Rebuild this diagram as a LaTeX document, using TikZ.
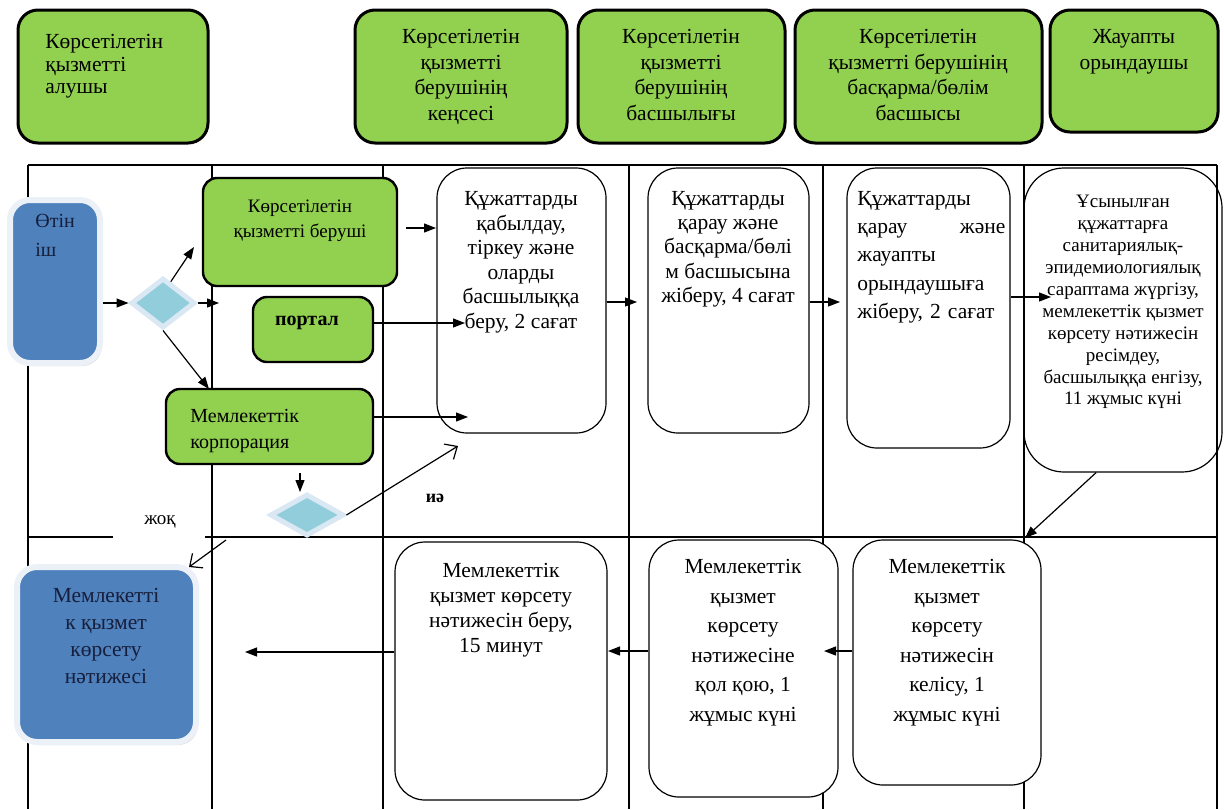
\documentclass[tikz,border=0pt]{standalone}
\usepackage{fontspec}
\setmainfont{Liberation Serif}
\usetikzlibrary{arrows.meta,shapes.geometric,shadows,fit}

\definecolor{hgreen}{RGB}{146,208,80}
\definecolor{bblue}{RGB}{79,129,189}
\definecolor{dcyan}{RGB}{146,205,220}
\definecolor{dedge}{RGB}{218,232,244}
\definecolor{bedge}{RGB}{236,241,248}
\definecolor{navy}{RGB}{22,30,60}

\tikzset{
  lane/.style={line width=0.65pt},
  hdr/.style={draw, line width=1.5pt, fill=hgreen, rounded corners=10pt, inner sep=0pt},
  gbox/.style={draw, line width=1.2pt, fill=hgreen, rounded corners=7pt, inner sep=0pt},
  wbox/.style={draw, line width=0.6pt, fill=white, rounded corners=15pt, inner sep=0pt},
  bbox/.style={draw=bedge, line width=3pt, fill=bblue, rounded corners=10pt, inner sep=0pt,
    drop shadow={shadow xshift=1pt, shadow yshift=-1.5pt, opacity=0.3}},
  dia/.style={diamond, draw=dedge, fill=dcyan, line width=2.5pt, inner sep=0pt},
  txt/.style={inner sep=0pt, align=center, font=\fontsize{10.75}{12.3}\selectfont},
  arr/.style={line width=0.6pt, -{Triangle[length=6pt,width=4.5pt]}},
  oarr/.style={line width=0.6pt, -{Straight Barb[length=5pt,width=9pt]}},
}

\begin{document}
\begin{tikzpicture}[x=0.5pt, y=-0.5pt]
    \useasboundingbox (0,0) rectangle (1224,809);

    % swimlanes
    \pgfmathsetmacro{\ytop}{165};
    \pgfmathsetmacro{\ymid}{537};
    \draw[lane] (28,\ytop) -- (1217,\ytop);
    \foreach \x in {28,212,383,629,823,1024,1217}
        \draw[lane] (\x,\ytop) -- (\x,809);
    \draw[lane] (28,\ymid) -- (113,\ymid);
    \draw[lane] (205,\ymid) -- (1217,\ymid);

    % headers
    \node[hdr, fit={(18,10) (208,143)}] (h1) {};
    \node[hdr, fit={(355,10) (567,143)}] (h2) {};
    \node[hdr, fit={(578,10) (785,143)}] (h3) {};
    \node[hdr, fit={(795,10) (1042,143)}] (h4) {};
    \node[hdr, fit={(1050,10) (1218,132)}] (h5) {};
    \node[txt, anchor=north west, align=left, font=\fontsize{10.75}{11.3}\selectfont] (h1t) at (45,34) {Көрсетілетін\\қызметті\\алушы};
    \node[txt, anchor=north, font=\fontsize{10.75}{12.8}\selectfont] (h2t) at (461,29) {Көрсетілетін\\қызметті\\берушінің\\кеңсесі};
    \node[txt, anchor=north, font=\fontsize{10.75}{12.8}\selectfont] (h3t) at (681,29) {Көрсетілетін\\қызметті\\берушінің\\басшылығы};
    \node[txt, anchor=north, font=\fontsize{10.75}{12.8}\selectfont] (h4t) at (918,29) {Көрсетілетін\\қызметті берушінің\\басқарма/бөлім\\басшысы};
    \node[txt, anchor=north, font=\fontsize{10.75}{12.8}\selectfont] (h5t) at (1134,29) {Жауапты\\орындаушы};

    % first lane
    \node[bbox, fit={(10,200) (100,363)}] (otinish) {};
    \node[txt, anchor=north west, align=left, text=navy, font=\fontsize{10}{14.5}\selectfont] (otinisht) at (35,214) {Өтін\\іш};
    \node[dia, minimum width=32pt, minimum height=25pt] (d1) at (163,303) {};

    \node[gbox, fit={(203,178) (397,286)}] (berushi) {};
    \node[txt, anchor=north, font=\fontsize{9.5}{12.5}\selectfont] (berushit) at (300,200) {Көрсетілетін\\қызметті беруші};
    \node[gbox, fit={(253,297) (373,362)}] (portal) {};
    \node[txt, font=\fontsize{10}{12}\selectfont\bfseries] (portalt) at (307,323) {портал};
    \node[gbox, fit={(166,389) (373,464)}] (corp) {};
    \node[txt, anchor=north west, align=left, font=\fontsize{10}{13}\selectfont] (corpt) at (190,409) {Мемлекеттік\\корпорация};
    \node[dia, minimum width=37pt, minimum height=21pt] (d2) at (307,515) {};

    \node[wbox, fit={(437,168) (606,433)}] (c1) {};
    \node[txt, anchor=north] (c1t) at (521,191) {Құжаттарды\\қабылдау,\\тіркеу және\\оларды\\басшылыққа\\беру, 2 сағат};
    \node[wbox, fit={(648,168) (809,433)}] (c2) {};
    \node[txt, anchor=north, font=\fontsize{10.75}{12.1}\selectfont] (c2t) at (728,191) {Құжаттарды\\қарау және\\басқарма/бөлі\\м басшысына\\жіберу, 4 сағат};
    \node[wbox, fit={(847,168) (1010,448)}] (c3) {};
    \node[txt, anchor=north west, align=left, text width=74pt, font=\fontsize{10.75}{14.1}\selectfont] (c3t) at (857,191) {Құжаттарды\\қарау\hfill және\\жауапты\\орындаушыға\\жіберу, 2 сағат};
    \node[wbox, fill=none, rounded corners=20pt, fit={(1024,168) (1222,472)}] (c4) {};
    \node[txt, anchor=north, font=\fontsize{9.5}{10.95}\selectfont] (c4t) at (1123,195) {Ұсынылған\\құжаттарға\\санитариялық-\\эпидемиологиялық\\сараптама жүргізу,\\мемлекеттік қызмет\\көрсету нәтижесін\\ресімдеу,\\басшылыққа енгізу,\\11 жұмыс күні};

    % second lane
    \node[bbox, fit={(17,567) (196,742)}] (result) {};
    \node[txt, anchor=north, text=navy, font=\fontsize{10.75}{13.5}\selectfont] (resultt) at (106,588) {Мемлекетті\\к қызмет\\көрсету\\нәтижесі};
    \node[wbox, fit={(395,542) (607,800)}] (beru) {};
    \node[txt, anchor=north, font=\fontsize{10.75}{12.5}\selectfont] (berut) at (501,563) {Мемлекеттік\\қызмет көрсету\\нәтижесін беру,\\15 минут};
    \node[wbox, fit={(649,540) (838,797)}] (qol) {};
    \node[txt, anchor=north, font=\fontsize{10.75}{14.75}\selectfont] (qolt) at (743,559) {Мемлекеттік\\қызмет\\көрсету\\нәтижесіне\\қол қою, 1\\жұмыс күні};
    \node[wbox, fit={(853,540) (1041,785)}] (kel) {};
    \node[txt, anchor=north, font=\fontsize{10.75}{14.75}\selectfont] (kelt) at (947,559) {Мемлекеттік\\қызмет\\көрсету\\нәтижесін\\келісу, 1\\жұмыс күні};

    \node[txt, font=\fontsize{9.5}{11}\selectfont] (zhoq) at (160,522) {жоқ};
    \node[txt, font=\fontsize{9}{11}\selectfont\bfseries] (ia) at (435,498) {иә};

    % arrows
    \coordinate (d1a) at (194,247);
    \coordinate (d1b) at (219,303);
    \coordinate (d1c) at (209,389);
    \coordinate (c1a) at (436,228);
    \coordinate (c1b) at (465,323);
    \coordinate (c1c) at (468,417);
    \coordinate (d2a) at (300,492);
    \coordinate (ia1) at (458,446);
    \coordinate (zs) at (226,540);
    \coordinate (ze) at (189,567);
    \coordinate (c2in) at (637,302);
    \coordinate (c3in) at (840,302);
    \coordinate (c4in) at (1051,297);
    \coordinate (kelin) at (1025,538);
    \coordinate (qa) at (824,651);
    \coordinate (ba) at (608,651);
    \coordinate (ra) at (245,652);

    \draw[arr] (otinish.east |- d1.west) -- (d1.west);
    \draw[arr] (d1.70) -- (d1a);
    \draw[arr] (d1.east) -- (d1b);
    \draw[arr] (d1.south) -- (d1c);
    \draw[arr, shorten <=4pt] (berushi.east |- c1a) -- (c1a);
    \draw[arr] (portal.east |- c1b) -- (c1b);
    \draw[arr] (corp.east |- c1c) -- (c1c);
    \draw[arr, shorten <=4pt] (corp.south -| d2a) -- (d2a);
    \draw[oarr] (d2.east) -- (ia1);
    \draw[oarr] (zs) -- (ze);
    \draw[arr] (c1.east |- c2in) -- (c2in);
    \draw[arr] (c2.east |- c3in) -- (c3in);
    \draw[arr] (c3.east |- c4in) -- (c4in);
    \draw[arr] (c4.260) -- (kelin);
    \draw[arr] (kel.west |- qa) -- (qa);
    \draw[arr] (qol.west |- ba) -- (ba);
    \draw[arr] (beru.west |- ra) -- (ra);
\end{tikzpicture}
\end{document}
